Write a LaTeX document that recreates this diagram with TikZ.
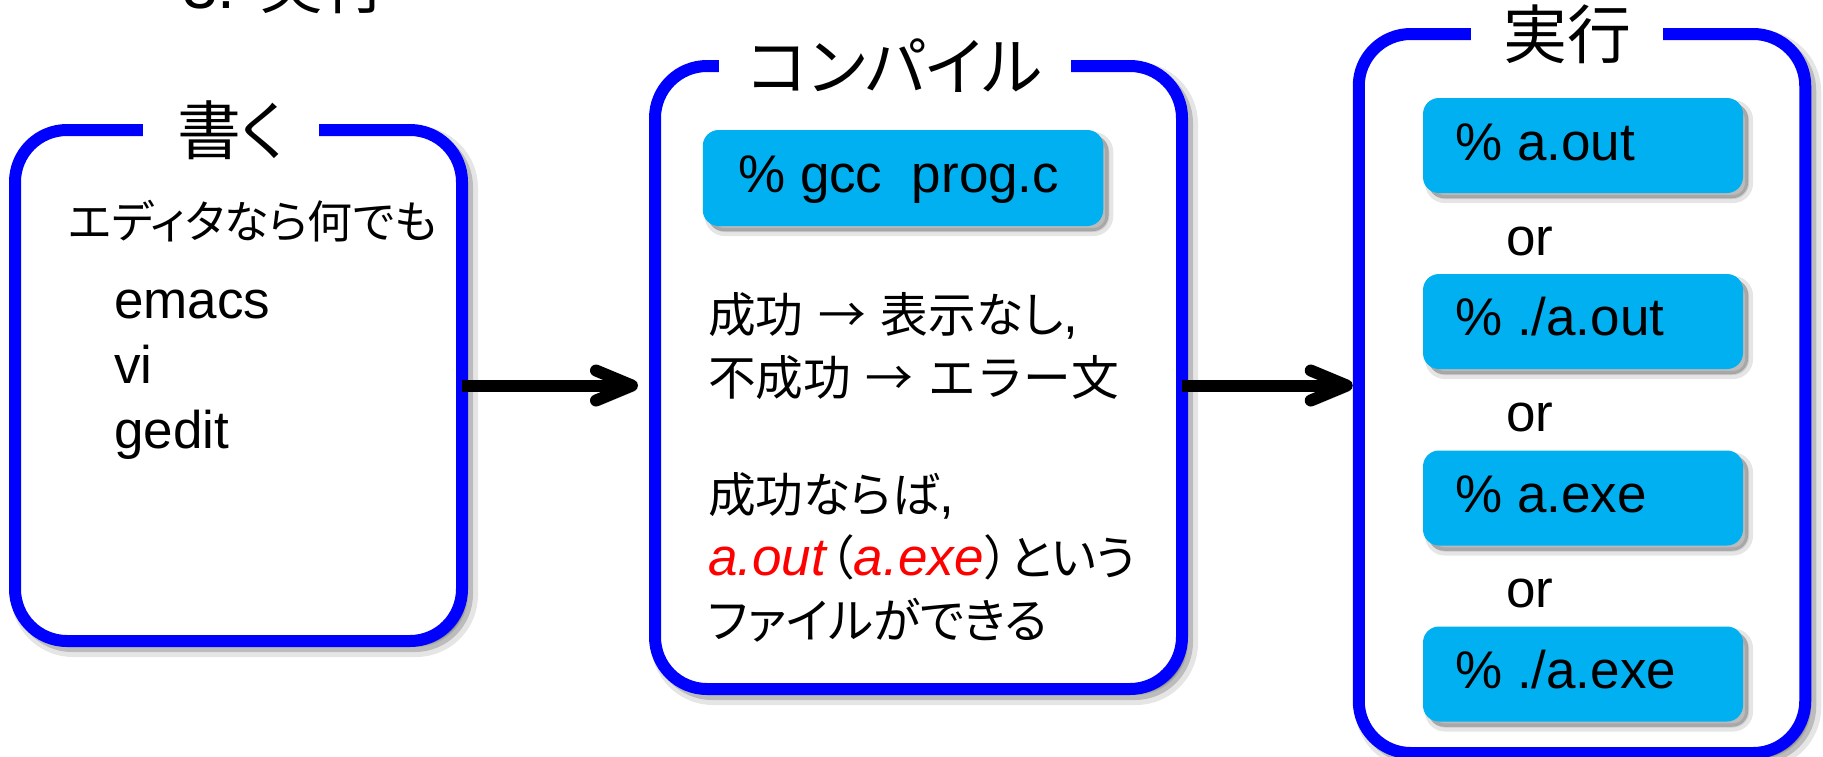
\documentclass[tikz,border=0pt]{standalone}
\usepackage{fontspec}
\setmainfont{Liberation Sans}
\newfontfamily\jpfont[Scale=0.9,RawFeature=+palt]{Noto Sans CJK JP}
\newfontfamily\jpwidefont[Scale=0.9]{Noto Sans CJK JP}
\newcommand{\jpn}[1]{{\jpfont #1}}
\newcommand{\jpw}[1]{{\jpwidefont #1}}
\newcommand{\flowto}{{\jpwidefont →}}
\usetikzlibrary{arrows.meta,calc}
\definecolor{boxblue}{HTML}{0000FF}
\definecolor{cmdcyan}{HTML}{00B0F0}
\definecolor{outred}{HTML}{FF0000}
\begin{document}
\begin{tikzpicture}[x=1pt,y=-1pt,
  softshadow/.style={preaction={draw=black, fill=black, opacity=0.10, line width=#1+8pt, transform canvas={shift={(6pt,-6pt)}}},
                     preaction={draw=black, fill=black, opacity=0.18, line width=#1, transform canvas={shift={(5pt,-5pt)}}}},
  bigbox/.style={softshadow=12pt, draw=boxblue, line width=12pt, fill=white, rounded corners=52pt, inner sep=0pt, outer sep=0pt},
  cmdbox/.style={softshadow=0.1pt, fill=cmdcyan, rounded corners=16pt, inner sep=0pt, outer sep=0pt},
  titlebox/.style={fill=white, inner sep=0pt, minimum height=64pt, font=\fontsize{71}{80}\selectfont},
  txt/.style={anchor=base west, inner sep=0pt, font=\fontsize{53}{60}\selectfont},
  flowarrow/.style={line width=12pt, draw=black, -{Straight Barb[length=36pt, width=30pt, round]},
                    preaction={draw=black, opacity=0.2, transform canvas={shift={(4pt,-5pt)}}}}
]
\useasboundingbox (0,0) rectangle (1823,756);

% heading (cut off at top, as in the original)
\node[anchor=base west, inner sep=0pt, font=\fontsize{64}{70}\selectfont] (heading) at (182,8) {3. \jpn{\fontsize{71}{80}\selectfont 実行}};

% big boxes
\node[bigbox, minimum width=447pt, minimum height=511pt] (write) at (238.5,385.5) {};
\node[bigbox, minimum width=527pt, minimum height=623pt] (compile) at (918.5,377.5) {};
\node[bigbox, minimum width=446.5pt, minimum height=719pt] (run) at (1582,393.5) {};

% titles
\node[titlebox, minimum width=176pt] (writetitle) at (231,130) {\jpn{書く}};
\node[titlebox, minimum width=352pt] (compiletitle) at (895,66) {\jpn{コンパイル}};
\node[titlebox, minimum width=192pt] (runtitle) at (1567,34) {\jpn{実行}};

% box 1 text
\node[txt, font=\fontsize{50}{60}\selectfont] (edit) at (68,238) {\jpn{エディタなら何でも}};
\node[txt] (emacs) at (114,318) {emacs};
\node[txt] (vi) at (114,383) {vi};
\node[txt] (gedit) at (114,448) {gedit};

% box 2
\node[cmdbox, minimum width=400.5pt, minimum height=96pt] (gcc) at (903,178) {};
\node[txt] (gcctext) at (738,192) {\% gcc\ \ prog.c};
\node[txt] (ok) at (708,332) {\jpn{成功} \flowto{} \jpn{表示なし},};
\node[txt] (ng) at (708,395) {\jpw{不成功} \flowto{} \jpw{エラー文}};
\node[txt] (ifok) at (708,512) {\jpn{成功ならば},};
\node[txt] (aout) at (708,575) {\textcolor{outred}{\itshape a.out}\kern4pt\jpn{（}\textcolor{outred}{\itshape a.exe}\kern2pt\jpn{）という}};
\node[txt] (file) at (708,638) {\jpn{ファイルができる}};

% box 3
\node[cmdbox, minimum width=320pt, minimum height=95pt] (c1) at (1583,145.5) {};
\node[cmdbox, minimum width=320pt, minimum height=95pt] (c2) at (1583,321.5) {};
\node[cmdbox, minimum width=320pt, minimum height=95pt] (c3) at (1583,498) {};
\node[cmdbox, minimum width=320pt, minimum height=95pt] (c4) at (1583,674) {};
\node[txt] (t1) at (1455,160) {\% a.out};
\node[txt] (t2) at (1455,335) {\% ./a.out};
\node[txt] (t3) at (1455,512) {\% a.exe};
\node[txt] (t4) at (1455,688) {\% ./a.exe};
\node[txt] (or1) at (1506,255) {or};
\node[txt] (or2) at (1506,431) {or};
\node[txt] (or3) at (1506,607) {or};

% arrows
\draw[flowarrow, shorten >=17pt] (write.east) -- (write.east -| compile.west);
\draw[flowarrow, shorten >=6pt] (compile.east |- write.east) -- (write.east -| run.west);
\end{tikzpicture}
\end{document}
